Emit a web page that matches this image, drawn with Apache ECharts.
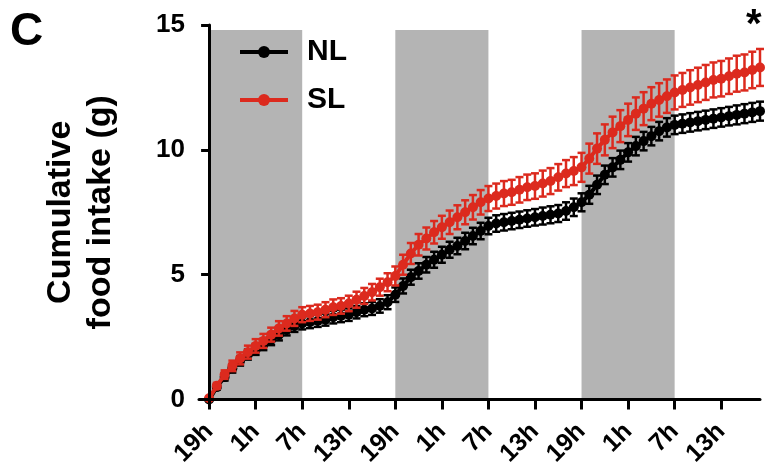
<!DOCTYPE html>
<html>
<head>
<meta charset="utf-8">
<script src="https://cdn.jsdelivr.net/npm/echarts@6/dist/echarts.min.js"></script>
<style>
  html, body { margin: 0; padding: 0; background: #fff; }
  #chart { width: 776px; height: 469px; }
</style>
</head>
<body>
<div id="chart"></div>
<script>
// hours since 19h of the first night (one sample per hour)
const hours = Array.from({ length: 72 }, (_, i) => i)

// tick positions (hours) and their clock labels
const tickHours = [0, 6, 12, 18, 24, 30, 36, 42, 48, 54, 60, 66]
const tickLabels = ['19h', '1h', '7h', '13h', '19h', '1h', '7h', '13h', '19h', '1h', '7h', '13h']

// dark phases (19h -> 7h)
const nightStart = [0, 24, 48]
const nightEnd = [12, 36, 60]

// NL group: cumulative intake (g) and SEM
const nlMean = [
  0.0, 0.5, 0.9, 1.25, 1.55, 1.8, 2.0, 2.2, 2.4, 2.6, 2.8, 2.95,
  3.05, 3.1, 3.15, 3.2, 3.3, 3.35, 3.4, 3.5, 3.6, 3.65, 3.75, 3.9,
  4.2, 4.55, 4.9, 5.15, 5.4, 5.6, 5.8, 6.0, 6.15, 6.35, 6.55, 6.75,
  6.95, 7.05, 7.1, 7.15, 7.2, 7.25, 7.3, 7.35, 7.4, 7.45, 7.55, 7.7,
  7.9, 8.2, 8.6, 9.0, 9.3, 9.6, 9.9, 10.15, 10.35, 10.55, 10.75, 10.9,
  11.0, 11.05, 11.1, 11.15, 11.2, 11.25, 11.3, 11.35, 11.4, 11.45, 11.5, 11.55
]
const nlSem = [
  0.05, 0.1, 0.14, 0.17, 0.19, 0.2, 0.21, 0.22, 0.22, 0.23, 0.23, 0.24,
  0.24, 0.24, 0.24, 0.24, 0.25, 0.25, 0.25, 0.25, 0.26, 0.26, 0.27, 0.28,
  0.29, 0.3, 0.3, 0.31, 0.31, 0.32, 0.32, 0.32, 0.33, 0.33, 0.33, 0.33,
  0.33, 0.33, 0.33, 0.33, 0.33, 0.33, 0.33, 0.34, 0.34, 0.34, 0.35, 0.35,
  0.36, 0.36, 0.37, 0.37, 0.37, 0.37, 0.37, 0.37, 0.37, 0.37, 0.37, 0.37,
  0.37, 0.37, 0.37, 0.37, 0.37, 0.37, 0.37, 0.37, 0.38, 0.38, 0.38, 0.38
]

// SL group: cumulative intake (g) and SEM
const slMean = [
  0.05, 0.55, 1.0, 1.35, 1.65, 1.9, 2.15, 2.35, 2.6, 2.85, 3.05, 3.25,
  3.4, 3.45, 3.5, 3.6, 3.7, 3.75, 3.85, 4.0, 4.15, 4.3, 4.5, 4.7,
  4.95, 5.4, 5.85, 6.2, 6.45, 6.7, 6.9, 7.1, 7.3, 7.5, 7.7, 7.9,
  8.05, 8.15, 8.25, 8.3, 8.4, 8.5, 8.55, 8.65, 8.75, 8.9, 9.05, 9.15,
  9.3, 9.65, 10.05, 10.4, 10.7, 10.95, 11.2, 11.45, 11.65, 11.85, 12.0, 12.15,
  12.3, 12.4, 12.5, 12.6, 12.7, 12.8, 12.85, 12.95, 13.05, 13.1, 13.2, 13.3
]
const slSem = [
  0.06, 0.12, 0.17, 0.21, 0.24, 0.26, 0.27, 0.28, 0.28, 0.29, 0.29, 0.3,
  0.3, 0.3, 0.3, 0.3, 0.31, 0.31, 0.31, 0.32, 0.32, 0.33, 0.34, 0.36,
  0.38, 0.4, 0.42, 0.43, 0.44, 0.45, 0.46, 0.47, 0.48, 0.48, 0.49, 0.49,
  0.5, 0.5, 0.5, 0.5, 0.51, 0.51, 0.51, 0.52, 0.52, 0.53, 0.54, 0.56,
  0.58, 0.6, 0.61, 0.62, 0.63, 0.64, 0.65, 0.65, 0.66, 0.66, 0.67, 0.67,
  0.68, 0.68, 0.69, 0.69, 0.7, 0.7, 0.71, 0.71, 0.72, 0.72, 0.73, 0.74
]

const FONT = 'Liberation Sans'
const RED = '#dc2a1e'

let myChart = echarts.init(document.getElementById('chart'))

// vertical SEM bar with caps, drawn through the axes
function errorBars(color) {
  return function(params, api) {
    let x = api.value(0), m = api.value(1), e = api.value(2)
    let top = api.coord([x, m + e])
    let bot = api.coord([x, m - e])
    let w = 4
    let st = { stroke: color, lineWidth: 2.5 }
    return {
      type: 'group',
      children: [
        { type: 'line', shape: { x1: top[0], y1: top[1], x2: bot[0], y2: bot[1] }, style: st },
        { type: 'line', shape: { x1: top[0] - w, y1: top[1], x2: top[0] + w, y2: top[1] }, style: st },
        { type: 'line', shape: { x1: bot[0] - w, y1: bot[1], x2: bot[0] + w, y2: bot[1] }, style: st }
      ]
    }
  }
}

let nights = nightStart.map((s, i) => [s, nightEnd[i]])

myChart.setOption({
  animation: false,
  grid: { left: 199, right: 16, top: 25, bottom: 69 },
  legend: {
    data: ['NL', 'SL'],
    orient: 'vertical',
    left: 238,
    top: 37,
    padding: 0,
    itemWidth: 48,
    itemHeight: 15,
    itemGap: 18,
    lineStyle: { width: 4 },
    textStyle: {
      fontFamily: FONT, fontWeight: 'bold', fontSize: 30, color: '#000',
      padding: [0, 0, 0, 14]
    }
  },
  graphic: [
    {
      type: 'text', left: 10, top: 9,
      style: { text: 'C', fontFamily: FONT, fontWeight: 'bold', fontSize: 46, fill: '#000' }
    },
    {
      type: 'text', left: 746, top: 6,
      style: { text: '*', fontFamily: FONT, fontWeight: 'bold', fontSize: 40, fill: '#000' }
    }
  ],
  xAxis: {
    type: 'value',
    min: -1.3,
    max: 71,
    z: 10,
    axisLine: { lineStyle: { color: '#000', width: 3 } },
    axisTick: { customValues: tickHours, length: 10, lineStyle: { color: '#000', width: 3 } },
    splitLine: { show: false },
    axisLabel: {
      customValues: tickHours,
      rotate: 45,
      margin: 28,
      color: '#000',
      fontFamily: FONT,
      fontWeight: 'bold',
      fontSize: 25,
      formatter: function(v) {
        return tickLabels[tickHours.indexOf(v)]
      }
    }
  },
  yAxis: {
    type: 'value',
    min: 0,
    max: 15,
    interval: 5,
    z: 10,
    name: 'Cumulative\nfood intake (g)',
    nameLocation: 'middle',
    nameGap: 78,
    nameTextStyle: {
      fontFamily: FONT, fontWeight: 'bold', fontSize: 34, lineHeight: 40, color: '#000'
    },
    axisLine: { show: true, lineStyle: { color: '#000', width: 3 } },
    axisTick: { show: true, length: 8, lineStyle: { color: '#000', width: 3 } },
    splitLine: { show: false },
    axisLabel: {
      margin: 14,
      color: '#000',
      fontFamily: FONT,
      fontWeight: 'bold',
      fontSize: 26
    }
  },
  series: [
    {
      name: 'night',
      type: 'custom',
      z: 1,
      data: nights,
      renderItem: function(params, api) {
        let a = api.coord([api.value(0), 14.8])
        let b = api.coord([api.value(1), 0])
        return {
          type: 'rect',
          shape: { x: a[0], y: a[1], width: b[0] - a[0], height: b[1] - a[1] },
          style: { fill: '#b4b4b4' }
        }
      },
      encode: { x: [0, 1] },
      silent: true
    },
    {
      name: 'NL err',
      type: 'custom',
      z: 3,
      data: hours.map((h, i) => [h, nlMean[i], nlSem[i]]),
      renderItem: errorBars('#000'),
      encode: { x: 0, y: 1 }
    },
    {
      name: 'NL',
      type: 'line',
      z: 4,
      data: hours.map((h, i) => [h, nlMean[i]]),
      symbol: 'circle',
      symbolSize: 10,
      color: '#000',
      lineStyle: { width: 4, color: '#000' },
      itemStyle: { color: '#000' }
    },
    {
      name: 'SL err',
      type: 'custom',
      z: 5,
      data: hours.map((h, i) => [h, slMean[i], slSem[i]]),
      renderItem: errorBars(RED),
      encode: { x: 0, y: 1 }
    },
    {
      name: 'SL',
      type: 'line',
      z: 6,
      data: hours.map((h, i) => [h, slMean[i]]),
      symbol: 'circle',
      symbolSize: 10,
      color: RED,
      lineStyle: { width: 4, color: RED },
      itemStyle: { color: RED }
    }
  ]
})
</script>
</body>
</html>
